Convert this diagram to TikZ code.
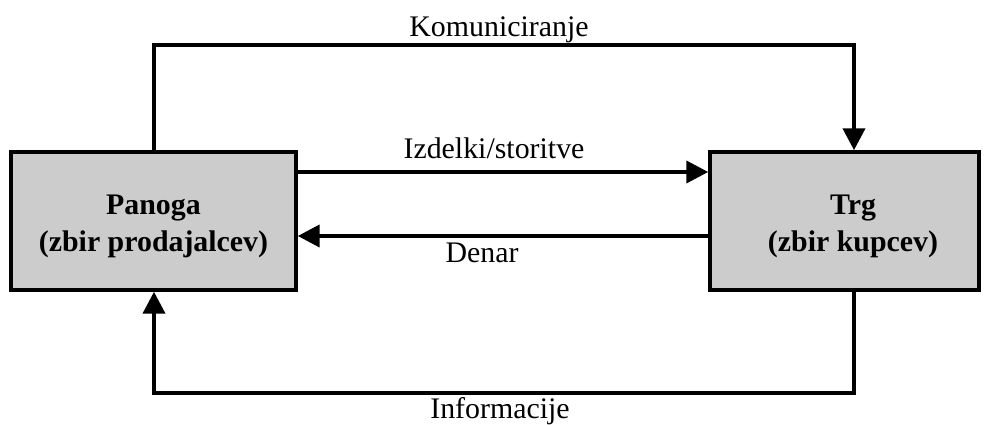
\documentclass[tikz,border=0pt]{standalone}
\usepackage{fontspec}
\setmainfont{Liberation Serif}
\usetikzlibrary{arrows.meta}
\tikzset{
  box/.style={draw, line width=2pt, fill=black!20, minimum height=2.76cm, inner sep=0pt},
  boxtext/.style={font=\fontsize{17}{21}\selectfont\bfseries, align=center},
  flow/.style={line width=2.3pt, -{Triangle[length=0.44cm,width=0.44cm]}},
  lbl/.style={font=\fontsize{17}{21}\selectfont, anchor=base, inner sep=0pt}
}
\begin{document}
\begin{tikzpicture}[x=0.02cm,y=-0.02cm]
\useasboundingbox (0,0) rectangle (985,425);

\node[box, minimum width=5.7cm] (panoga) at (153.5,221) {};
\node[box, minimum width=5.38cm] (trg) at (844.5,221) {};
\node[boxtext] (panogatext) at (153.5,226) {Panoga\\(zbir prodajalcev)};
\node[boxtext] (trgtext) at (853,226) {Trg\\(zbir kupcev)};

% top and bottom loops
\draw[flow] (panoga.north -| 154,0) -- (154,45) -- (854,45) -- (trg.north -| 854,0);
\draw[flow] (trg.south -| 854,0) -- (854,393) -- (154,393) -- (panoga.south -| 154,0);

% middle arrows
\draw[flow] (panoga.east |- 0,172) -- (trg.west |- 0,172);
\draw[flow] (trg.west |- 0,236) -- (panoga.east |- 0,236);

\node[lbl] (komuniciranje) at (499,37) {Komuniciranje};
\node[lbl] (izdelki) at (494,159) {Izdelki/storitve};
\node[lbl] (denar) at (482,263) {Denar};
\node[lbl] (informacije) at (500,419) {Informacije};
\end{tikzpicture}
\end{document}
